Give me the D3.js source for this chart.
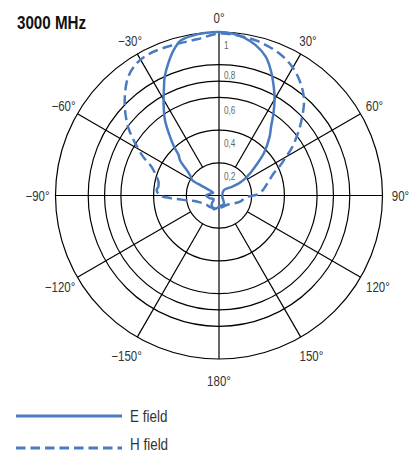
<!DOCTYPE html>
<html>
<head>
<meta charset="utf-8">
<script src="https://cdn.jsdelivr.net/npm/d3@7"></script>
<style>
  html, body { margin: 0; padding: 0; background: #fff; }
  svg text { font-family: "Liberation Sans", Arial, sans-serif; }
</style>
</head>
<body>
<svg id="chart" width="414" height="455"></svg>
<script>
// Radiation pattern at 3000 MHz, normalised field strength vs. angle (degrees)
const title = "3000 MHz";

const angleTicks = [0, 30, 60, 90, 120, 150, 180, -150, -120, -90, -60, -30];
const angleLabels = ["0°", "30°", "60°", "90°", "120°", "150°", "180°", "−150°", "−120°", "−90°", "−60°", "−30°"];
const ringValues = [0.2, 0.4, 0.6, 0.7, 0.8, 1.0];
const ringLabelValues = [0.2, 0.4, 0.6, 0.8, 1.0];
const ringLabels = ["0,2", "0,4", "0,6", "0,8", "1"];

// E field trace (solid), points in drawing order
const eAngles = [-60, -56, -53, -48, -45, -42.5, -39.8, -35.6, -31, -27.5, -24.5, -21, -17.4, -14, -10, -5,
  0, 5, 9, 13.7, 18.6, 22.4, 26.7, 30, 33.5, 37, 40.7, 46.5, 50.5, 54, 57, 58.5, 56, 42,
  100, 150, 175, -160, -140, -125, -105, -90, -75, -64, -61, -61];
const eValues = [0.19, 0.21, 0.235, 0.32, 0.35, 0.41, 0.468, 0.568, 0.658, 0.73, 0.80, 0.866, 0.93, 0.975, 0.99, 0.997,
  1.0, 0.993, 0.978, 0.947, 0.896, 0.83, 0.745, 0.68, 0.603, 0.53, 0.475, 0.38, 0.30, 0.24, 0.19, 0.145, 0.095, 0.045,
  0.02, 0.06, 0.065, 0.09, 0.07, 0.04, 0.06, 0.08, 0.05, 0.04, 0.08, 0.125];

// H field trace (dashed), points in drawing order
const hAngles = [-85, -81.7, -77, -73, -67, -63, -58, -53, -47.7, -42.6, -37.4, -32, -26, -17, -8,
  0, 7, 14.6, 22.9, 29.6, 36, 41.7, 46.6, 50.7, 56.4, 60, 64.4, 68, 75, 82, 88, 93,
  106, 120, 141, 170, -170, -140, -127, -105, -97, -93, -90];
const hValues = [0.383, 0.375, 0.38, 0.40, 0.448, 0.52, 0.605, 0.696, 0.777, 0.849, 0.914, 0.952, 0.966, 0.962, 0.965,
  0.99, 0.985, 0.972, 0.944, 0.906, 0.849, 0.782, 0.70, 0.632, 0.539, 0.475, 0.41, 0.36, 0.31, 0.275, 0.24, 0.17,
  0.134, 0.10, 0.075, 0.075, 0.08, 0.09, 0.095, 0.141, 0.22, 0.30, 0.36];

const seriesNames = ["E field", "H field"];

const svg = d3.select("#chart");
const cx = 219, cy = 195.5, R = 163.5;
const blue = "#4a7bc0";

const r = d3.scaleLinear().domain([0, 1]).range([0, R]);
const a = d3.scaleLinear().domain([0, 360]).range([0, 2 * Math.PI]);

// narrow the glyphs to a condensed cut
function condense(sel, k) {
  sel.each(function () {
    const len = this.getComputedTextLength();
    d3.select(this).attr("textLength", len * k).attr("lengthAdjust", "spacingAndGlyphs");
  });
}

const g = svg.append("g").attr("transform", `translate(${cx},${cy})`);
const grid = g.append("g").attr("fill", "none").attr("stroke", "#000").attr("stroke-width", 1.2);

// concentric rings
grid.selectAll("circle").data(ringValues).join("circle")
  .attr("r", d => r(d));

// radial spokes: the axes run through the centre, the others start at the inner ring
grid.selectAll("line").data(angleTicks).join("line")
  .each(function (d) {
    const t = a(d);
    const inner = (d % 90 === 0) ? 0 : r(0.2);
    d3.select(this)
      .attr("x1", inner * Math.sin(t)).attr("y1", -inner * Math.cos(t))
      .attr("x2", r(1) * Math.sin(t)).attr("y2", -r(1) * Math.cos(t));
  });

// angle labels
g.selectAll("text.ang").data(angleTicks).join("text")
  .attr("class", "ang")
  .attr("x", d => (R + 18 - 4 * Math.cos(a(d))) * Math.sin(a(d)))
  .attr("y", d => -(R + 18 - 4 * Math.cos(a(d))) * Math.cos(a(d)))
  .attr("text-anchor", "middle")
  .attr("dominant-baseline", "central")
  .attr("font-size", 14)
  .attr("fill", "#333")
  .text((d, i) => angleLabels[i])
  .call(condense, 0.82);

// ring value labels along the 0° axis
g.selectAll("text.ring").data(ringLabelValues).join("text")
  .attr("class", "ring")
  .attr("x", 5)
  .attr("y", d => {
    const below = ringValues.filter(v => v < d - 1e-9);
    const next = below.length ? below[below.length - 1] : 0;
    const gap = r(d) - r(next);
    return -r(d) + Math.min(17, gap - 2);
  })
  .attr("font-size", 10)
  .attr("fill", "#666")
  .text((d, i) => ringLabels[i])
  .call(condense, 0.82);

// traces
const line = d3.lineRadial()
  .angle(d => a(d[0]))
  .radius(d => r(d[1]))
  .curve(d3.curveCatmullRomClosed.alpha(0.5));

const eData = d3.zip(eAngles, eValues);
const hData = d3.zip(hAngles, hValues);

g.append("path").datum(hData)
  .attr("d", line)
  .attr("fill", "none")
  .attr("stroke", blue)
  .attr("stroke-width", 2.5)
  .attr("stroke-dasharray", "10,5");

g.append("path").datum(eData)
  .attr("d", line)
  .attr("fill", "none")
  .attr("stroke", blue)
  .attr("stroke-width", 2.5);

// title
svg.append("text")
  .attr("x", 17).attr("y", 28.5)
  .attr("font-size", 18.5)
  .attr("font-weight", "bold")
  .attr("fill", "#111")
  .text(title)
  .call(condense, 0.82);

// legend
const legend = svg.append("g");
const legendRows = [{ y: 416, dash: null }, { y: 448, dash: "9.5,5" }];
legendRows.forEach((row, i) => {
  legend.append("line")
    .attr("x1", 16).attr("x2", 122)
    .attr("y1", row.y).attr("y2", row.y)
    .attr("stroke", blue).attr("stroke-width", 3)
    .attr("stroke-dasharray", row.dash);
  legend.append("text")
    .attr("x", 130).attr("y", row.y + 5.5 - i * 3.5)
    .attr("font-size", 16)
    .attr("fill", "#333")
    .text(seriesNames[i])
    .call(condense, 0.84);
});
</script>
</body>
</html>
